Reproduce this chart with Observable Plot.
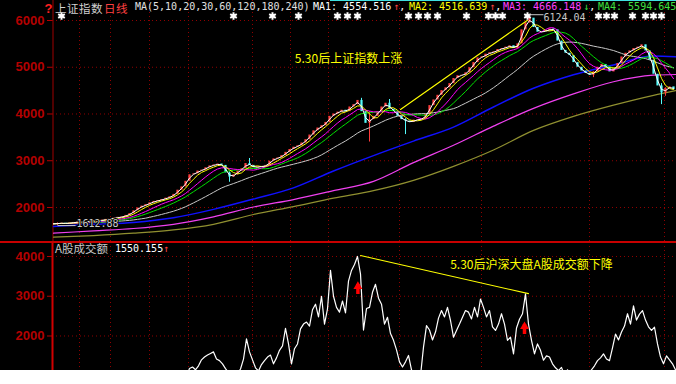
<!DOCTYPE html>
<html><head><meta charset="utf-8">
<script src="https://cdn.jsdelivr.net/npm/d3@7"></script>
<script src="https://cdn.jsdelivr.net/npm/@observablehq/plot@0.6"></script>
<style>
html,body{margin:0;padding:0;background:#fff;}
#wrap{position:relative;width:676px;height:384px;overflow:hidden;background:#fff;}
#chart{position:absolute;left:0;top:0;width:676px;height:370px;background:#000;overflow:hidden;}
#chart svg{position:absolute;left:0;}
.lbl{position:absolute;white-space:pre;line-height:14px;}
.mono{font-family:"DejaVu Sans Mono",monospace;font-size:10px;}
.cjk{font-family:"Noto Sans CJK SC",sans-serif;font-size:11px;}
</style></head><body>
<div id="wrap"><div id="chart"></div></div>
<script>
// ---------------- data ----------------
// close of the index, one sample per ~2.5 trading days (bar index 0..155)
const closes = [
1651,1660,1665,1655,1670,1680,1690,1685,1700,1710,
1720,1715,1730,1745,1760,1770,1790,1800,1830,1870,
1930,1990,2030,2060,2100,2130,2150,2170,2200,2230,
2280,2370,2440,2560,2700,2720,2780,2800,2850,2890,
2910,2930,2900,2740,2650,2700,2780,2830,2940,2900,
2850,2870,2880,2900,2990,3040,3060,3110,3180,3240,
3290,3320,3380,3450,3550,3640,3700,3750,3820,3950,
4000,4040,4080,4050,4150,4200,4290,4050,3800,3880,
3950,4050,4150,4230,4100,4050,3950,3880,3850,3820,
3870,3880,3900,3990,4180,4300,4400,4500,4560,4650,
4760,4820,4830,4880,4990,5100,5200,5220,5280,5310,
5330,5380,5400,5430,5460,5400,5500,5800,5950,6050,
5850,5750,5760,5780,5820,5800,5560,5360,5300,5250,
5100,5000,4920,4870,4830,4900,5000,5060,5000,4900,
4980,5080,5220,5300,5350,5400,5430,5480,5350,5150,
4850,4600,4450,4550,4580,4520];
// notable shadows (wicks)
const wickIdx  = [1, 44, 49, 77, 79, 84, 88, 119, 135, 152, 153];
const wickLow  = [1612.88, 2540, 2900, 4200, 3400, 4180, 3560, 5950, 4778, 4200, 4380];
const wickHigh = [1670, 2760, 3048, 4335, 4050, 4310, 3900, 6124.04, 4900, 4650, 4560];
// long moving averages
const maLongIdx = [0,10,20,30,40,50,60,70,80,90,100,110,120,130,140,150,155.5];
const ma120 = [1594,1640,1680,1780,1960,2180,2420,2780,3110,3420,3720,4150,4550,4840,5050,5240,5224];
const ma180 = [1450,1500,1550,1640,1800,2010,2170,2360,2560,2960,3330,3740,4120,4430,4690,4830,4845];
const ma240 = [1365,1400,1450,1520,1640,1850,2020,2200,2360,2580,2880,3230,3650,3950,4190,4400,4500];
// A-share turnover (亿元), sampled every 0.75 bar starting at bar 31
const volStart = 31, volStep = 0.75;
const volume = [
700,750,850,1000,1180,1220,1150,1250,1400,1470,
1520,1560,1600,1420,1380,1300,1180,1080,1020,960,
1050,1170,1420,1930,1600,1400,1200,1120,1280,1380,
1470,1520,1300,1450,1640,1750,2190,1800,1300,1680,
1800,2180,2300,2350,2250,2660,2800,2480,3000,2300,
2680,3650,3000,2720,2600,2880,2580,3380,3650,3800,
4000,3560,2150,2690,2720,3100,3300,2950,2800,2300,
2470,2060,1890,1650,1350,1220,1350,1510,1150,1000,
950,1000,1720,2260,2150,1900,2100,2450,2640,2480,
2720,2390,1970,2140,2300,2470,2640,2600,2430,2720,
2480,2930,2720,2480,2640,2230,2140,2300,2560,2300,
1890,1970,1550,2200,2420,2560,3060,2300,1890,1550,
1800,1640,1390,1500,1470,1300,1200,1130,1210,1000,
1150,1050,980,1000,1100,1000,950,1050,1150,1250,
1380,1450,1550,1420,1380,1700,2050,1900,2100,2250,
2560,2300,2760,2400,2550,2640,2400,2230,2140,2220,
1800,1470,1300,1500,1400,1300,1150];
const priceTicks = [2000, 3000, 4000, 5000, 6000];
const volTicks = [2000, 3000, 4000];
const monthGrid = [6.5, 14.25, 24, 33.75, 49.75, 59.25, 68.75, 86.5, 107, 134, 152.75];
const markerIdx = [2, 45, 54.75, 61.25, 71, 73.5, 76, 88.75, 91.25, 93.5, 96, 103.25, 108.75, 110.5, 112.25, 118.5, 136.25, 138.25, 140.25, 144.75, 148, 150, 152];
const priceTrendIdx = [86.75, 118.5], priceTrendVal = [4096, 6006];
const volTrendIdx = [76.75, 118.75], volTrendVal = [4025, 3065];
const arrowIdx = [76.1, 117.75], arrowTop = [3296, 2289], arrowBase = [3044, 2038];
const peakIdx = 119, peakVal = 6124.04, lowIdx = 1, lowVal = 1612.88;
const titleText = "上证指数", periodText = "日线", maSpec = "MA(5,10,20,30,60,120,180,240)";
const maLabels = ["MA1: 4554.516", "MA2: 4516.639", "MA3: 4666.148", "MA4: 5594.645"];
const maArrows = ["↑", "↑", "↓", ""];
const volTitle = "A股成交额", volValue = "1550.155", volArrow = "↑";
const noteTop = "5.30后上证指数上涨", noteBottom = "5.30后沪深大盘A股成交额下降";

// ---------------- styling ----------------
const UP = "#ff3c3c", DOWN = "#54fcfc", GRID = "#900000";
const xDomain = [-0.25, 155.75];
const rows = closes.map((c, i) => ({i, close: c, open: i ? closes[i - 1] : c}));
const ups = rows.filter(d => d.close >= d.open), downs = rows.filter(d => d.close < d.open);
const wicks = wickIdx.map((i, j) => ({i, lo: wickLow[j], hi: wickHigh[j], up: rows[i].close >= rows[i].open}));
const longLine = arr => maLongIdx.map((x, j) => ({x, y: arr[j]}));
const cjk = {fontFamily: "Noto Sans CJK SC", fontSize: 12, fontWeight: "normal"};
const mono = {fontFamily: "DejaVu Sans Mono", fontSize: 10, fontWeight: "normal"};
const axisStyle = {background: "transparent", color: "#b40000", fontFamily: "Liberation Sans, Arial, sans-serif", fontSize: "13px", fontWeight: "bold"};
const plain = d => String(d);

const topPlot = Plot.plot({
  width: 676, height: 242, marginLeft: 52, marginRight: 0, marginTop: 0, marginBottom: 0,
  style: axisStyle,
  x: {domain: xDomain, axis: null},
  y: {domain: [1251, 6428], axis: null},
  marks: [
    Plot.ruleY(priceTicks, {stroke: GRID, strokeDasharray: "1,3"}),
    Plot.ruleX(monthGrid, {stroke: GRID, strokeDasharray: "1,3"}),
    Plot.axisY(priceTicks, {anchor: "left", tickSize: 5, tickPadding: 3, tickFormat: plain}),
    Plot.ruleX([xDomain[0]], {stroke: "#a00000", dx: 0.5}),
    Plot.line(longLine(ma240), {x: "x", y: "y", stroke: "#909030", strokeWidth: 1.2, curve: "monotone-x", clip: true}),
    Plot.line(longLine(ma180), {x: "x", y: "y", stroke: "#f040f0", strokeWidth: 1.2, curve: "monotone-x", clip: true}),
    Plot.line(longLine(ma120), {x: "x", y: "y", stroke: "#1010ff", strokeWidth: 1.5, curve: "monotone-x", clip: true}),
    Plot.ruleX(wicks.filter(d => d.up), {x: "i", y1: "lo", y2: "hi", stroke: UP, clip: true}),
    Plot.ruleX(wicks.filter(d => !d.up), {x: "i", y1: "lo", y2: "hi", stroke: DOWN, clip: true}),
    Plot.ruleX(ups, {x: "i", y1: "open", y2: "close", stroke: UP, strokeWidth: 2.2, clip: true}),
    Plot.ruleX(downs, {x: "i", y1: "open", y2: "close", stroke: DOWN, strokeWidth: 2.2, clip: true}),
    Plot.lineY(rows, Plot.windowY({k: 24, anchor: "end"}, {x: "i", y: "close", stroke: "#c8c8c8", strokeWidth: 1, clip: true})),
    Plot.lineY(rows, Plot.windowY({k: 12, anchor: "end"}, {x: "i", y: "close", stroke: "#00e000", strokeWidth: 1, clip: true})),
    Plot.lineY(rows, Plot.windowY({k: 8, anchor: "end"}, {x: "i", y: "close", stroke: "#ff00ff", strokeWidth: 1, clip: true})),
    Plot.lineY(rows, Plot.windowY({k: 4, anchor: "end"}, {x: "i", y: "close", stroke: "#ffff00", strokeWidth: 1, clip: true})),
    Plot.lineY(rows, Plot.windowY({k: 2, anchor: "end"}, {x: "i", y: "close", stroke: "#ffffff", strokeWidth: 1, clip: true})),
    Plot.line(priceTrendIdx.map((x, j) => ({x, y: priceTrendVal[j]})), {x: "x", y: "y", stroke: "#ffff00", strokeWidth: 1.1}),
    Plot.dot(markerIdx, {x: d => d, frameAnchor: "top", dy: 15.5, symbol: "asterisk", r: 3.6, stroke: "#ffffff", strokeWidth: 2}),
    Plot.link([0], {x1: () => peakIdx, y1: () => peakVal, x2: () => peakIdx + 3.5, y2: () => peakVal, stroke: "#c8c8c8"}),
    Plot.text([peakVal.toFixed(2)], {x: () => peakIdx + 3.5, y: () => peakVal, dy: 3, textAnchor: "start", fill: "#c8c8c8", ...mono}),
    Plot.link([0], {x1: () => lowIdx, y1: () => lowVal, x2: () => lowIdx + 4.5, y2: () => lowVal, stroke: "#c8c8c8"}),
    Plot.text([lowVal.toFixed(2)], {x: () => lowIdx + 4.75, y: () => lowVal, dy: -2, textAnchor: "start", fill: "#c8c8c8", stroke: "#000", strokeWidth: 2, paintOrder: "stroke", ...mono}),
    Plot.text([noteTop], {x: () => 73.75, y: () => 5166, fill: "#ffff00", ...cjk})
  ]
});

const vrows = volume.map((v, k) => ({x: volStart + k * volStep, v}));
const bottomPlot = Plot.plot({
  width: 676, height: 128, marginLeft: 52, marginRight: 0, marginTop: 0, marginBottom: 0,
  style: axisStyle,
  x: {domain: xDomain, axis: null},
  y: {domain: [1132, 4352], axis: null},
  marks: [
    Plot.ruleY(volTicks, {stroke: GRID, strokeDasharray: "1,3"}),
    Plot.ruleX(monthGrid, {stroke: GRID, strokeDasharray: "1,3"}),
    Plot.axisY(volTicks, {anchor: "left", tickSize: 5, tickPadding: 3, tickFormat: plain}),
    Plot.ruleX([xDomain[0]], {stroke: "#d00000", strokeWidth: 2}),
    Plot.line(vrows, {x: "x", y: "v", stroke: "#ffffff", strokeWidth: 1.2, clip: true}),
    Plot.line(volTrendIdx.map((x, j) => ({x, y: volTrendVal[j]})), {x: "x", y: "y", stroke: "#ffff00", strokeWidth: 1.1}),
    Plot.ruleX(arrowIdx.map((x, j) => ({x, y1: arrowBase[j], y2: arrowTop[j]})), {x: "x", y1: "y1", y2: "y2", stroke: "#ff0000", strokeWidth: 3.5}),
    Plot.dot(arrowIdx.map((x, j) => ({x, y: arrowTop[j]})), {x: "x", y: "y", dy: 2, symbol: "triangle", r: 3.3, fill: "#ff0000"}),
    Plot.text([noteBottom], {x: () => 119.5, y: () => 3770, fill: "#ffff00", ...cjk})
  ]
});

// ---------------- assemble ----------------
const chart = document.getElementById("chart");
topPlot.style.top = "0px";
bottomPlot.style.top = "242px";
chart.appendChild(topPlot);
chart.appendChild(bottomPlot);

function label(text, left, topPx, cls, color, extra) {
  const s = document.createElement("span");
  s.className = "lbl " + cls;
  s.textContent = text;
  s.style.left = left + "px";
  s.style.top = topPx + "px";
  s.style.color = color;
  if (extra) Object.assign(s.style, extra);
  chart.appendChild(s);
}
const divider = document.createElement("div");
Object.assign(divider.style, {position: "absolute", left: "0px", top: "241px", width: "676px", height: "2px", background: "#c80000"});
chart.appendChild(divider);
const cyan = document.createElement("div");
Object.assign(cyan.style, {position: "absolute", left: "330px", top: "0px", width: "346px", height: "1px", background: "#40e0e0"});
chart.appendChild(cyan);

label("?", 44.5, 0.5, "", "#ff2020", {fontFamily: "Liberation Sans, Arial", fontWeight: "bold", fontSize: "13px", lineHeight: "15px"});
label(titleText, 55, 0.5, "cjk", "#d0d0d0", {fontSize: "11.5px", letterSpacing: "0.5px"});
label(periodText, 104, 0.5, "cjk", "#ff4040", {fontSize: "11.5px", letterSpacing: "0.5px"});
label(maSpec, 135, 0, "mono", "#e0e0e0");
const maColors = ["#ffffff", "#ffff00", "#ff40ff", "#40e040"];
const maLeft = [313, 409, 503, 598];
const arrowColors = ["#ff4040", "#ff4040", "#40e040", ""];
maLabels.forEach((t, j) => {
  label(t, maLeft[j], 0, "mono", maColors[j]);
  if (maArrows[j]) {
    const ax = maLeft[j] + t.length * 6.02 + 2;
    label(maArrows[j], ax, 0, "mono", arrowColors[j]);
    label(",", ax + 6, 0, "mono", "#ffffff");
  }
});
label(volTitle, 55, 242, "cjk", "#c8c8c8", {fontSize: "11.5px", lineHeight: "13px"});
label(volValue, 115, 242, "mono", "#ffffff", {lineHeight: "13px"});
label(volArrow, 163, 242, "mono", "#ff4040", {lineHeight: "13px"});
</script></body></html>
